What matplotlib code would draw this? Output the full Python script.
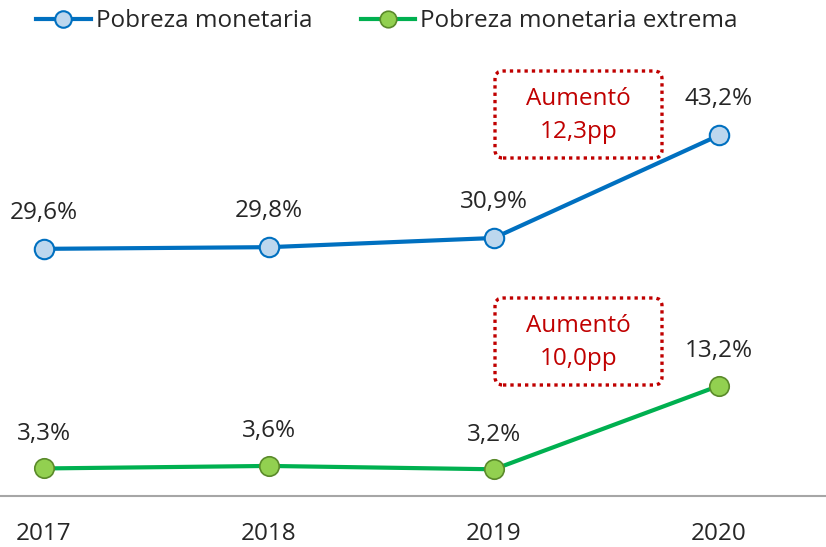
import matplotlib
matplotlib.use("Agg")
import matplotlib.pyplot as plt
from matplotlib.patches import FancyBboxPatch

# data
years = [2017, 2018, 2019, 2020]
pobreza = [29.6, 29.8, 30.9, 43.2]
pobreza_ext = [3.3, 3.6, 3.2, 13.2]
series_names = ["Pobreza monetaria", "Pobreza monetaria extrema"]
notes = ["Aumentó\n12,3pp", "Aumentó\n10,0pp"]

plt.rcParams['font.family'] = ['Open Sans', 'DejaVu Sans']

fig = plt.figure(figsize=(8.26, 5.47), dpi=100)
ax = fig.add_axes([0, 0, 1, 1])

blue, blue_face = '#0070C0', '#BDD7EE'
green, green_face, green_edge = '#00B050', '#92D050', '#5A8A2A'
txt = '#262626'
fs = 17.5

ax.plot(years, pobreza, color=blue, lw=3, marker='o', ms=14,
        mfc=blue_face, mec=blue, mew=1.5, label=series_names[0], zorder=3)
ax.plot(years, pobreza_ext, color=green, lw=3, marker='o', ms=14,
        mfc=green_face, mec=green_edge, mew=1.2, label=series_names[1], zorder=3)

def fmt(v):
    return f"{v:.1f}%".replace('.', ',')

for x, v in zip(years, pobreza):
    ax.text(x, v + 2.9, fmt(v), ha='center', va='bottom', fontsize=fs, color=txt)
for x, v in zip(years, pobreza_ext):
    ax.text(x, v + 2.7, fmt(v), ha='center', va='bottom', fontsize=fs, color=txt)

# x tick labels
for x in years:
    ax.text(x, -4.6, str(x), ha='center', va='center', fontsize=fs, color=txt)

ax.set_xlim(2016.8044, 2020.4756)
ax.set_ylim(-51 / 8.35, (547 - 51) / 8.35)
ax.axhline(0, color='#A6A6A6', lw=1.5, zorder=1)
ax.axis('off')

# annotation boxes (in inches)
for (y0, note) in [(3.89, notes[0]), (1.62, notes[1])]:
    box = FancyBboxPatch((4.95, y0), 1.67, 0.87,
                         boxstyle='round,pad=0,rounding_size=0.08',
                         transform=fig.dpi_scale_trans, fill=False,
                         edgecolor='#C00000', lw=2.4, ls=(0, (1, 1.2)))
    fig.add_artist(box)
    fig.text(5.785, y0 + 0.425, note, transform=fig.dpi_scale_trans,
             ha='center', va='center', fontsize=fs, color='#C00000', linespacing=1.55)

leg = ax.legend(loc='upper left', bbox_to_anchor=(0.029, 1.005), ncol=2, frameon=False,
                fontsize=fs, handlelength=2.25, handletextpad=0.2, columnspacing=2.0,
                borderaxespad=0.1, markerscale=0.85)
for t in leg.get_texts():
    t.set_color(txt)

fig.savefig('out.png', dpi=100)
